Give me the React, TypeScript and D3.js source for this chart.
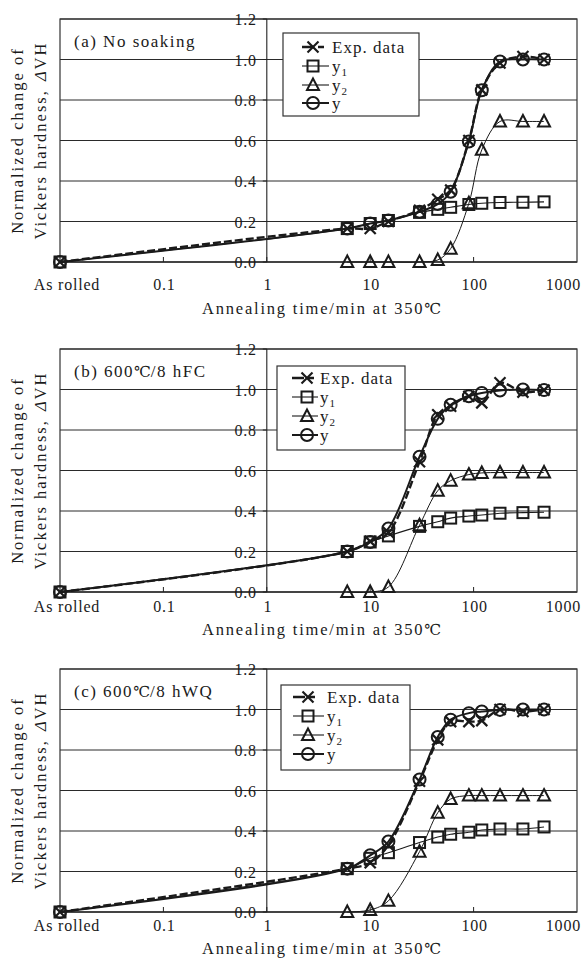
import React from 'react';
import * as d3 from 'd3';

// ---------- data ----------
const AS_ROLLED = 0.01;
const times = [6, 10, 15, 30, 45, 60, 90, 120, 180, 300, 480];
const xTickValues = [0.1, 1, 10, 100, 1000];
const xTickLabels = ['0.1', '1', '10', '100', '1000'];
const yTickValues = [0, 0.2, 0.4, 0.6, 0.8, 1.0, 1.2];
const seriesNames = ['Exp. data', 'y1', 'y2', 'y'];

// (a) No soaking
const expA = [0.165, 0.165, 0.2, 0.256, 0.31, 0.355, 0.6, 0.85, 0.983, 1.015, 1.0];
const y1A = [0.165, 0.19, 0.205, 0.245, 0.26, 0.27, 0.284, 0.29, 0.294, 0.295, 0.297];
const y2A = [0, 0, 0, 0, 0.01, 0.066, 0.29, 0.554, 0.694, 0.694, 0.694];
const yA = [0.165, 0.19, 0.205, 0.248, 0.286, 0.347, 0.595, 0.848, 0.99, 1.0, 1.0];

// (b) 600℃/8 hFC
const expB = [0.2, 0.25, 0.294, 0.643, 0.875, 0.917, 0.967, 0.934, 1.033, 0.987, 0.997];
const y1B = [0.2, 0.247, 0.277, 0.324, 0.347, 0.365, 0.375, 0.38, 0.389, 0.392, 0.394];
const y2B = [0, 0, 0.025, 0.33, 0.5, 0.55, 0.58, 0.588, 0.59, 0.59, 0.59];
const yB = [0.2, 0.247, 0.314, 0.668, 0.855, 0.925, 0.967, 0.983, 0.995, 1.0, 0.997];

// (c) 600℃/8 hWQ
const expC = [0.214, 0.243, 0.33, 0.646, 0.85, 0.94, 0.94, 0.945, 1.0, 0.99, 1.0];
const y1C = [0.214, 0.265, 0.293, 0.343, 0.37, 0.384, 0.394, 0.405, 0.41, 0.41, 0.42];
const y2C = [0, 0.01, 0.055, 0.298, 0.49, 0.558, 0.575, 0.575, 0.575, 0.575, 0.575];
const yC = [0.214, 0.28, 0.348, 0.654, 0.864, 0.95, 0.982, 0.99, 0.998, 1.0, 1.0];

const titlePrefix = ['(a) No soaking', '(b) 600', '(c) 600'];
const titleSuffix = ['', '/8 hFC', '/8 hWQ'];

// ---------- layout ----------
const W = 582;
const H = 969;
const PL = 60;
const PR = 577;
const PH = 243;
const FONT = 'Liberation Serif, Times New Roman, serif';
const DEG_FONT = 'DejaVu Serif, serif';
const INK = '#1a1a1a';

const panelLayout = [
  { top: 19, tickY: 290, titleY: 314, legend: { bx: 283, by: 33, bw: 136, bh: 83, sx0: 302, sx1: 329, mx: 313, tx: 332, rows: [47, 66, 85, 103] } },
  { top: 349, tickY: 612, titleY: 635, legend: { bx: 277, by: 366, bw: 128, bh: 84, sx0: 292, sx1: 318, mx: 307, tx: 320, rows: [378, 397, 416, 435] } },
  { top: 669, tickY: 931, titleY: 954, legend: { bx: 281, by: 685, bw: 129, bh: 85, sx0: 293, sx1: 324, mx: 308, tx: 327, rows: [697, 716, 735, 754] } },
];

const panelData = [
  { exp: expA, y1: y1A, y2: y2A, y: yA },
  { exp: expB, y1: y1B, y2: y2B, y: yB },
  { exp: expC, y1: y1C, y2: y2C, y: yC },
];

const xScale = d3.scaleLog().domain([AS_ROLLED, 1000]).range([PL, PR]);

type Pt = [number, number];

const txt = (size: number, ls: number): React.CSSProperties => ({
  fontFamily: FONT,
  fontSize: size,
  letterSpacing: ls,
});

function Deg({ size }: { size: number }) {
  return <tspan style={{ fontFamily: DEG_FONT, fontSize: size, letterSpacing: 0 }}>℃</tspan>;
}

function Marker({ kind, x, y }: { kind: string; x: number; y: number }) {
  const s = 5.5;
  if (kind === 'x') {
    return (
      <g stroke={INK} strokeWidth={2.2} fill="none">
        <line x1={x - s} y1={y - s} x2={x + s} y2={y + s} />
        <line x1={x - s} y1={y + s} x2={x + s} y2={y - s} />
      </g>
    );
  }
  if (kind === 'square') {
    return <rect x={x - s} y={y - s} width={2 * s} height={2 * s} fill="none" stroke={INK} strokeWidth={2} />;
  }
  if (kind === 'triangle') {
    return (
      <path
        d={`M${x},${y - 6.5}L${x + 6},${y + 5}L${x - 6},${y + 5}Z`}
        fill="none"
        stroke={INK}
        strokeWidth={2}
        strokeLinejoin="miter"
      />
    );
  }
  return <circle cx={x} cy={y} r={6} fill="none" stroke={INK} strokeWidth={2} />;
}

function Panel({ idx }: { idx: number }) {
  const L = panelLayout[idx];
  const D = panelData[idx];
  const top = L.top;
  const bottom = top + PH;
  const yScale = d3.scaleLinear().domain([0, 1.2]).range([bottom, top]);
  const line = d3
    .line<Pt>()
    .x((d) => xScale(d[0]))
    .y((d) => yScale(d[1]))
    .curve(d3.curveCatmullRom.alpha(0.5));

  const withRolled = (vals: number[]): Pt[] => [[AS_ROLLED, 0], ...times.map((t, i) => [t, vals[i]] as Pt)];
  const noRolled = (vals: number[]): Pt[] => times.map((t, i) => [t, vals[i]] as Pt);

  const expPts = withRolled(D.exp);
  const y1Pts = withRolled(D.y1);
  const y2Pts = noRolled(D.y2);
  const yPts = withRolled(D.y);

  const x1 = xScale(1);
  const cy = (top + bottom) / 2;
  const lg = L.legend;

  return (
    <g>
      {yTickValues.map((v) => (
        <line key={'g' + v} x1={PL} x2={PR} y1={yScale(v)} y2={yScale(v)} stroke="#2a2a2a" strokeWidth={v === 0 ? 1.6 : 1} />
      ))}
      <rect x={PL} y={top} width={PR - PL} height={PH} fill="none" stroke="#333" strokeWidth={1.2} />
      <line x1={x1} x2={x1} y1={top} y2={bottom} stroke="#222" strokeWidth={1.1} />
      {yTickValues.map((v) => (
        <line key={'yt' + v} x1={x1 - 4} x2={x1} y1={yScale(v)} y2={yScale(v)} stroke="#222" strokeWidth={1} />
      ))}
      {xTickValues.slice(0, 4).map((v) => (
        <line key={'xt' + v} x1={xScale(v)} x2={xScale(v)} y1={bottom} y2={bottom - 5} stroke="#222" strokeWidth={1} />
      ))}
      {yTickValues.map((v) => (
        <text key={'yl' + v} x={x1 - 10} y={yScale(v) + 6} textAnchor="end" style={txt(16, 0.8)} fill={INK}>
          {v.toFixed(1)}
        </text>
      ))}
      <text x={xScale(AS_ROLLED) + 7} y={L.tickY} textAnchor="middle" style={txt(16, 0.8)} fill={INK}>
        As rolled
      </text>
      {xTickValues.map((v, i) => (
        <text
          key={'xl' + v}
          x={v === 1000 ? W - 1 : xScale(v) + 1}
          y={L.tickY}
          textAnchor={v === 1000 ? 'end' : 'middle'}
          style={txt(16, 0.8)}
          fill={INK}
        >
          {xTickLabels[i]}
        </text>
      ))}
      <text x={(PL + PR) / 2 + 3} y={L.titleY} textAnchor="middle" style={txt(16.5, 1.8)} fill={INK}>
        Annealing time/min at 350<Deg size={15} />
      </text>
      <g transform={`translate(0,${cy}) rotate(-90)`}>
        <text x={0} y={23} textAnchor="middle" style={txt(16.5, 2)} fill={INK}>
          Normalized change of
        </text>
        <text x={0} y={46} textAnchor="middle" style={txt(16.5, 2)} fill={INK}>
          Vickers hardness,<tspan dx={8} fontStyle="italic">Δ</tspan>VH
        </text>
      </g>
      <text x={74} y={top + 28} style={txt(17, 1.5)} fill={INK}>
        {titlePrefix[idx]}
        {idx > 0 ? <Deg size={15} /> : null}
        {titleSuffix[idx]}
      </text>

      <path d={line(y2Pts) || ''} fill="none" stroke={INK} strokeWidth={1} />
      <path d={line(y1Pts) || ''} fill="none" stroke={INK} strokeWidth={1.1} />
      <path d={line(yPts) || ''} fill="none" stroke={INK} strokeWidth={2} />
      <path d={line(expPts) || ''} fill="none" stroke={INK} strokeWidth={2.4} strokeDasharray="8,3" />

      {y2Pts.map((p, i) => (
        <Marker key={'m2' + i} kind="triangle" x={xScale(p[0])} y={yScale(p[1])} />
      ))}
      {y1Pts.map((p, i) => (
        <Marker key={'m1' + i} kind="square" x={xScale(p[0])} y={yScale(p[1])} />
      ))}
      {yPts.map((p, i) => (
        <Marker key={'m3' + i} kind="circle" x={xScale(p[0])} y={yScale(p[1])} />
      ))}
      {expPts.map((p, i) => (
        <Marker key={'me' + i} kind="x" x={xScale(p[0])} y={yScale(p[1])} />
      ))}

      <rect x={lg.bx} y={lg.by} width={lg.bw} height={lg.bh} fill="#fff" stroke="#333" strokeWidth={1.2} />
      {seriesNames.map((name, i) => {
        const ry = lg.rows[i];
        const kinds = ['x', 'square', 'triangle', 'circle'];
        const sw = [2.4, 1.1, 1.1, 2][i];
        return (
          <g key={'lg' + i}>
            <line
              x1={lg.sx0}
              x2={lg.sx1}
              y1={ry}
              y2={ry}
              stroke={INK}
              strokeWidth={sw}
              strokeDasharray={i === 0 ? '12,4,6' : undefined}
            />
            <Marker kind={kinds[i]} x={lg.mx} y={ry} />
            <text x={lg.tx} y={ry + 5.5} style={txt(17, 1)} fill={INK}>
              {name.startsWith('y') && name.length === 2 ? (
                <>
                  y
                  <tspan dy={4} style={{ fontSize: 11 }}>
                    {name[1]}
                  </tspan>
                </>
              ) : (
                name
              )}
            </text>
          </g>
        );
      })}
    </g>
  );
}

export default function App() {
  return (
    <svg
      width={W}
      height={H}
      viewBox={`0 0 ${W} ${H}`}
      style={{ position: 'absolute', left: 0, top: 0, background: '#fff' }}
    >
      <rect x={0} y={0} width={W} height={H} fill="#fff" />
      {[0, 1, 2].map((i) => (
        <Panel key={i} idx={i} />
      ))}
    </svg>
  );
}
